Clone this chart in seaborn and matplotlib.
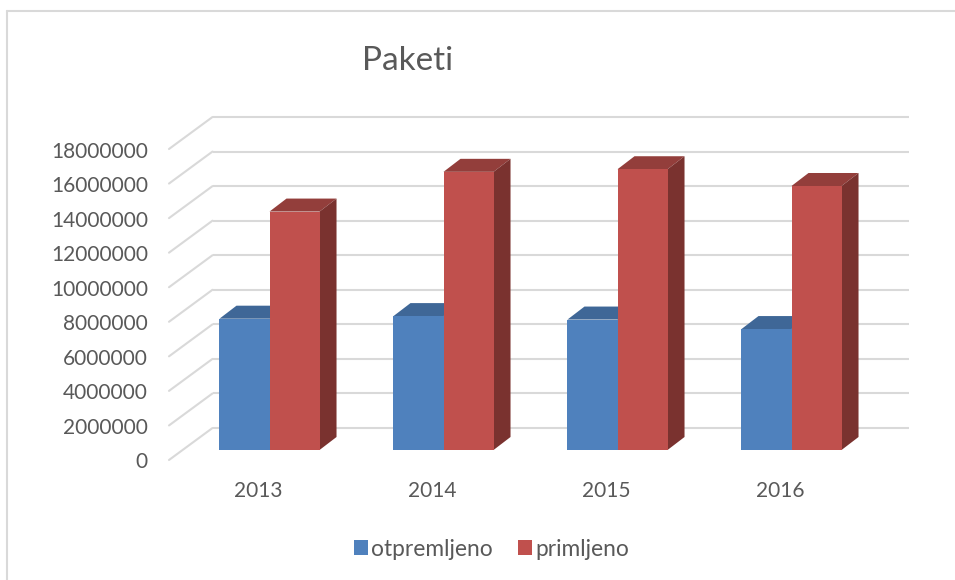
import matplotlib
matplotlib.use("Agg")
import matplotlib.pyplot as plt
from matplotlib.lines import Line2D
from matplotlib.patches import Polygon
from matplotlib.transforms import IdentityTransform, ScaledTranslation, offset_copy
import pandas as pd
import seaborn as sns

years = ["2013", "2014", "2015", "2016"]
otpremljeno = [7600000, 7750000, 7550000, 7000000]
primljeno = [13800000, 16100000, 16250000, 15280000]
y_ticks = list(range(0, 18000001, 2000000))

W, H = 955, 580
TEXT = "#595959"
GRID = "#D9D9D9"
COLORS = {"otpremljeno": "#4F81BD", "primljeno": "#C0504D"}
SIDES = {"otpremljeno": "#3A6090", "primljeno": "#7A322F"}
TOPS = {"otpremljeno": "#3F6797", "primljeno": "#933E3B"}
DEPTH_X, DEPTH_Y = 17, 13

sns.set_style("white")
plt.rcParams["font.family"] = ["Lato", "DejaVu Sans"]

df = pd.DataFrame({
    "year": years * 2,
    "value": otpremljeno + primljeno,
    "serie": ["otpremljeno"] * 4 + ["primljeno"] * 4,
})

fig = plt.figure(figsize=(W / 100, H / 100), dpi=100)
ax = fig.add_axes([182.5 / W, 1 - 450 / H, (878.5 - 182.5) / W, (450 - 139) / H])
sns.barplot(data=df, x="year", y="value", hue="serie", palette=COLORS, width=0.575,
            gap=0, saturation=1, ax=ax, zorder=3, legend=False, linewidth=0, edgecolor="none")
ax.set_xlim(-0.5, 3.5)
ax.set_ylim(0, 18000000)
ax.set_xlabel("")
ax.set_ylabel("")
sns.despine(ax=ax, left=True, bottom=True)

# back wall and floor lines
back = offset_copy(ax.transData, fig=fig, x=30, y=22, units="dots")
ax.hlines(y_ticks, -0.5, 3.5, color=GRID, lw=1.5, transform=back, zorder=1, clip_on=False)
for t in y_ticks:
    x0, y0 = ax.transData.transform((-0.5, t))
    ax.add_line(Line2D([x0 - 13.5, x0 + 30], [y0 - 10, y0 + 22], color=GRID, lw=1.5,
                       transform=IdentityTransform(), zorder=1, clip_on=False))


# depth faces of the bars, built from the drawn bars
def add_depth(bar, name, z):
    (x0, y0), (x1, y1) = ax.transData.transform(bar.get_bbox().get_points())
    top = [(x0, y1), (x1, y1), (x1 + DEPTH_X, y1 + DEPTH_Y), (x0 + DEPTH_X, y1 + DEPTH_Y)]
    side = [(x1, y0), (x1 + DEPTH_X, y0 + DEPTH_Y), (x1 + DEPTH_X, y1 + DEPTH_Y), (x1, y1)]
    ax.add_patch(Polygon(top, fc=TOPS[name], ec="none", transform=IdentityTransform(),
                         zorder=z, clip_on=False))
    ax.add_patch(Polygon(side, fc=SIDES[name], ec="none", transform=IdentityTransform(),
                         zorder=z, clip_on=False))


for cont, name in zip(ax.containers, COLORS):
    for bar in cont:
        add_depth(bar, name, 2 if name == "otpremljeno" else 2.5)

# tick labels sit on the front edge, not on the bar plane
ax.set_yticks(y_ticks)
ax.set_yticklabels([str(t) for t in y_ticks])
ax.tick_params(axis="y", length=0, pad=25, labelsize=15, labelcolor=TEXT)
ax.tick_params(axis="x", length=0, pad=22.5, labelsize=15, labelcolor=TEXT)
for lab in ax.get_yticklabels():
    lab.set_transform(lab.get_transform() + ScaledTranslation(0, -0.105, fig.dpi_scale_trans))
for lab in ax.get_xticklabels():
    lab.set_transform(lab.get_transform() + ScaledTranslation(-0.115, 0, fig.dpi_scale_trans))

fig.text(408 / W, 1 - 61.5 / H, "Paketi", ha="center", va="center", fontsize=24, color=TEXT)

handles = [plt.Rectangle((0, 0), 1, 1, fc=COLORS[k], lw=0) for k in COLORS]
fig.legend(handles, list(COLORS), loc="center", bbox_to_anchor=(491.5 / W, 1 - 549 / H), ncol=2,
           frameon=False, fontsize=16.4, labelcolor=TEXT, handlelength=0.6, handleheight=0.6,
           handletextpad=0.16, columnspacing=1.1)

# chart frame
fig.add_artist(Line2D([7 / W, 7 / W], [0, 1 - 11 / H], color=GRID, lw=1.5))
fig.add_artist(Line2D([7 / W, 1], [1 - 11 / H, 1 - 11 / H], color=GRID, lw=1.5))

fig.savefig("out.png", dpi=100)
